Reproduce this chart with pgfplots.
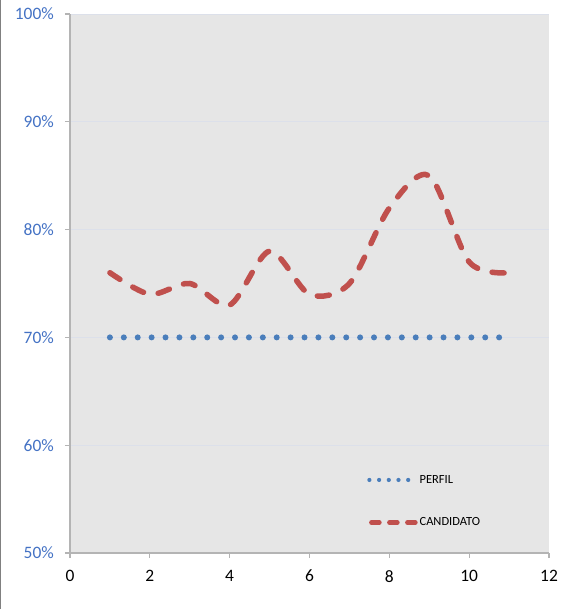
\documentclass[border=0pt]{standalone}
\usepackage{fontspec}
\setmainfont{Carlito}
\usepackage{pgfplots}
\pgfplotsset{compat=1.18}

\definecolor{bgplot}{RGB}{230,230,230}
\definecolor{axgray}{RGB}{180,180,180}
\definecolor{gridc}{RGB}{220,224,234}
\definecolor{perfil}{RGB}{74,126,187}
\definecolor{cand}{RGB}{192,80,77}
\definecolor{ylab}{RGB}{68,114,196}

\begin{document}
\begin{tikzpicture}
\begin{axis}[
    scale only axis,
    width=479bp, height=539bp,
    xmin=0, xmax=12, ymin=50, ymax=100,
    xtick={0,2,...,12}, ytick={50,60,...,100},
    axis lines=left, axis line style={-, axgray, line width=1.6bp},
    axis background/.style={fill=bgplot},
    tick align=outside, major tick length=5bp,
    tick style={axgray, line width=1.2bp},
    ymajorgrids, major grid style={gridc, line width=0.6bp},
    /pgf/number format/assume math mode=true,
    ticklabel style={font=\fontsize{17.5}{20}\selectfont},
    yticklabel={\pgfmathprintnumber{\tick}\%},
    yticklabel style={text=ylab, inner sep=0pt, xshift=-11bp},
    xticklabel style={text=black, inner sep=0pt, yshift=-12bp},
    legend style={at={(0.614,0.04)}, anchor=south west, draw=none, fill=none,
        font=\fontsize{12.5}{14}\selectfont, row sep=29bp,
        legend cell align=left},
]
\addplot[perfil, line width=6bp, line cap=round, dash pattern=on 0bp off 13.9bp,
    legend image code/.code={\draw[perfil, line width=4.2bp, line cap=round,
        dash pattern=on 0bp off 9.7bp] (0bp,0bp) -- (40bp,0bp);}]
    coordinates {(1,70) (11,70)};
\addlegendentry{PERFIL}
\addplot[cand, line width=5.5bp, line cap=round, dash pattern=on 12bp off 15bp,
    smooth, tension=0.5,
    legend image code/.code={\draw[cand, line width=4.5bp, line cap=round,
        dash pattern=on 8bp off 10bp] (2bp,0bp) -- (46bp,0bp);}]
    coordinates {(1,76) (2,74) (3,75) (4,73) (5,78) (6,74) (7,75) (8,82) (9,85) (10,77) (11,76)};
\addlegendentry{CANDIDATO}
\end{axis}
\path[use as bounding box] (-70bp,-56bp) rectangle (500bp,553bp);
\draw[gray, line width=1.5bp] (-69.25bp,-56bp) -- (-69.25bp,553bp);
\end{tikzpicture}
\end{document}
